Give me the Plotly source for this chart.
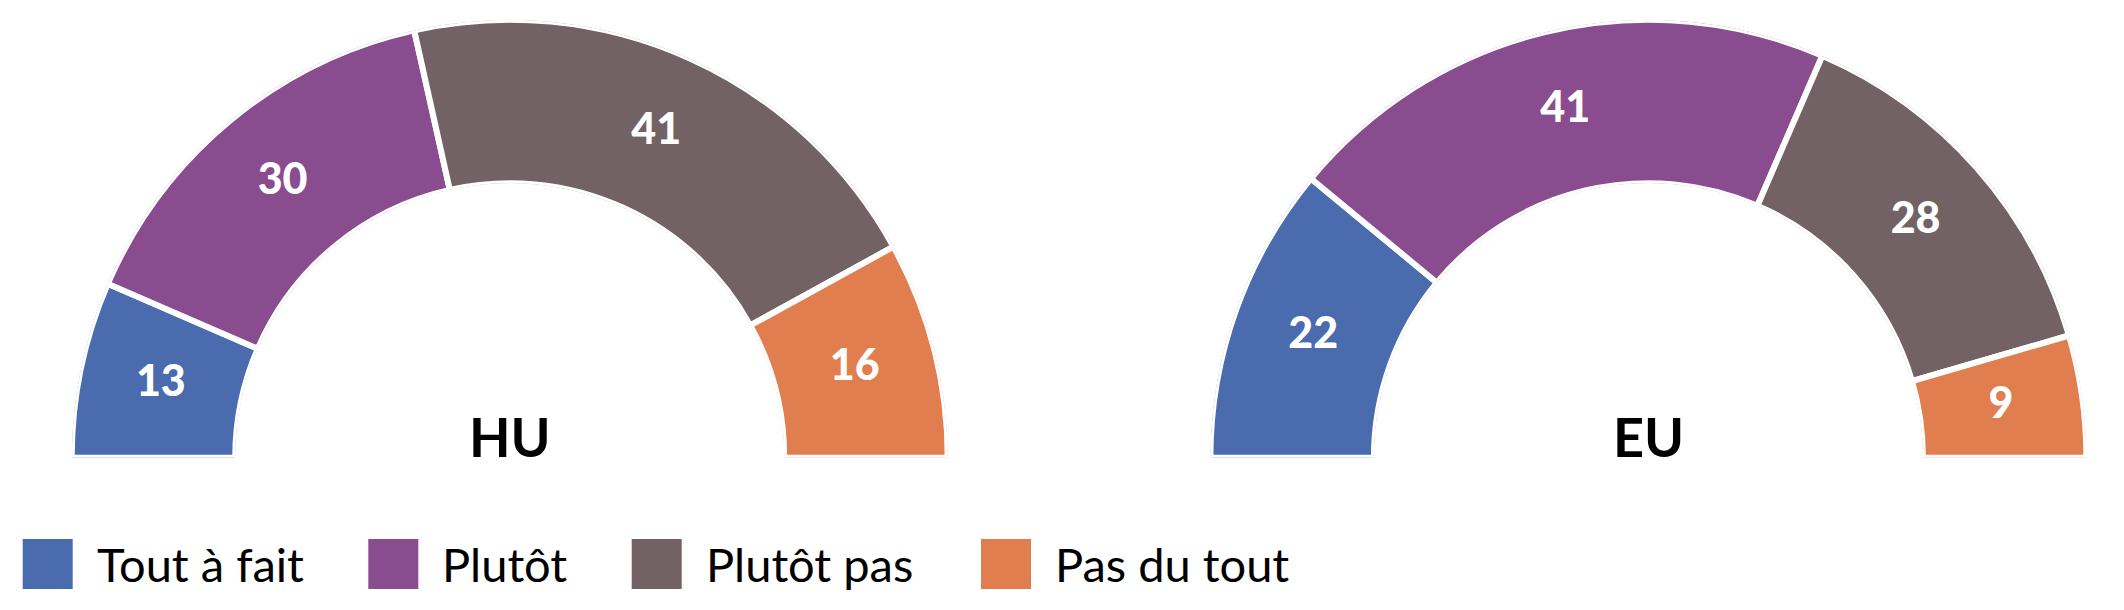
import plotly.graph_objects as go

# ---- data ----
categories = ["Tout à fait", "Plutôt", "Plutôt pas", "Pas du tout"]
hu_values = [13, 30, 41, 16]
eu_values = [22, 41, 28, 9]
gauge_names = ["HU", "EU"]
colors = ["#4A6BAE", "#884C8F", "#736265", "#E07E4F"]

# ---- layout constants (pixels) ----
W, H = 2124, 610
FONT = "Lato"
GAP = 6
R_OUT = 435.0 + GAP / 2
R_IN = 277.5 - GAP / 2
CY = 454.7 + GAP / 2          # gauge centre, px from top
CX = [509.7, 1648.4]          # gauge centres, px from left
LEG_SQ_X = [22.7, 368.3, 631.7, 981.0]
LEG_Y = 564.0
SQ = 50.0


def px(x):
    return x / W


def py(y):
    return (H - y) / H


fig = go.Figure()

for i, (name, vals) in enumerate(zip(gauge_names, [hu_values, eu_values])):
    total = sum(vals)
    widths = [v / total * 180 for v in vals]
    starts = [sum(widths[:k]) for k in range(len(widths))]
    mids = [s + w / 2 for s, w in zip(starts, widths)]
    pid = "polar" if i == 0 else "polar2"
    fig.add_trace(go.Barpolar(
        r=[1] * len(vals), theta=mids, width=widths,
        marker=dict(color=colors, line=dict(color="white", width=GAP)),
        subplot=pid, hoverinfo="skip", showlegend=False,
    ))
    fig.add_trace(go.Scatterpolar(
        r=[0.5] * len(vals), theta=mids, mode="text",
        text=[str(v) for v in vals],
        textfont=dict(family=FONT, size=43, color="white", weight=900),
        subplot=pid, hoverinfo="skip", showlegend=False,
    ))

polar_common = dict(
    sector=[0, 180], hole=R_IN / R_OUT, bgcolor="white",
    radialaxis=dict(range=[0, 1], visible=False),
    angularaxis=dict(visible=False, rotation=180, direction="clockwise"),
)

annotations = []
for cx, name in zip(CX, gauge_names):
    annotations.append(dict(
        x=px(cx), y=py(436), xref="paper", yref="paper", text=name,
        showarrow=False, xanchor="center", yanchor="middle",
        font=dict(family=FONT, size=54, color="black", weight="bold"),
    ))

shapes = []
for sx, cat, col in zip(LEG_SQ_X, categories, colors):
    shapes.append(dict(
        type="rect", xref="paper", yref="paper",
        x0=px(sx), x1=px(sx + SQ), y0=py(LEG_Y + SQ / 2), y1=py(LEG_Y - SQ / 2),
        fillcolor=col, line=dict(width=0),
    ))
    annotations.append(dict(
        x=px(sx + 72), y=py(LEG_Y), xref="paper", yref="paper", text=cat,
        showarrow=False, xanchor="left", yanchor="middle",
        font=dict(family=FONT, size=47, color="black"),
    ))

fig.update_layout(
    width=W, height=H,
    margin=dict(l=0, r=0, t=0, b=0),
    paper_bgcolor="white", plot_bgcolor="white",
    showlegend=False,
    polar=dict(domain=dict(x=[px(CX[0] - R_OUT), px(CX[0] + R_OUT)],
                           y=[py(CY), py(CY - R_OUT)]), **polar_common),
    polar2=dict(domain=dict(x=[px(CX[1] - R_OUT), px(CX[1] + R_OUT)],
                            y=[py(CY), py(CY - R_OUT)]), **polar_common),
    annotations=annotations,
    shapes=shapes,
)

fig.write_html(
    "out.html",
    config={"displayModeBar": False},
    post_script="document.body.style.margin='0';document.body.style.padding='0';",
)
